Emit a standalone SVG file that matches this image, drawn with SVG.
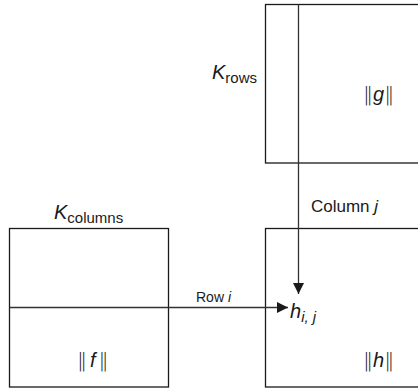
<svg xmlns="http://www.w3.org/2000/svg" width="418" height="388" viewBox="0 0 418 388">
<style>
.box{fill:none;stroke:#1a1a1a;stroke-width:1.3}
.ln{fill:none;stroke:#333;stroke-width:1.3}
text{font-family:"Liberation Sans",Arial,sans-serif;fill:#1a1a1a}
.big{font-size:20px}
.sub{font-size:15px}
.it{font-style:italic}
.nb{font-family:"DejaVu Sans",sans-serif;font-weight:200}
</style>
<defs>
<marker id="ah" viewBox="0 0 10 10" refX="10" refY="5" markerWidth="11" markerHeight="11" markerUnits="userSpaceOnUse" orient="auto">
<path d="M0,0 L10,5 L0,10 Z" fill="#1a1a1a"/>
</marker>
</defs>
<g id="matrix-g">
<rect class="box" x="265.5" y="4.5" width="160" height="158.5"/>
<text x="212" y="79"><tspan class="it big">K</tspan><tspan class="sub" dy="4">rows</tspan></text>
<text class="big" x="363" y="101"><tspan class="nb">‖</tspan><tspan class="it">g</tspan><tspan class="nb">‖</tspan></text>
</g>
<g id="matrix-f">
<rect class="box" x="9.5" y="228.5" width="159" height="158.5"/>
<text x="54" y="219"><tspan class="it big">K</tspan><tspan class="sub" dy="4">columns</tspan></text>
<text class="big" x="77" y="367"><tspan class="nb">‖</tspan><tspan class="it" dx="3">f</tspan><tspan class="nb" dx="3">‖</tspan></text>
</g>
<g id="matrix-h">
<rect class="box" x="265.5" y="228.5" width="160" height="158.5"/>
<text x="290" y="318"><tspan class="it big">h</tspan><tspan class="it sub" dy="4">i, j</tspan></text>
<text class="big" x="363" y="367"><tspan class="nb">‖</tspan><tspan class="it">h</tspan><tspan class="nb">‖</tspan></text>
</g>
<g id="connectors">
<line class="ln" x1="298.5" y1="4.5" x2="298.5" y2="294" marker-end="url(#ah)"/>
<line class="ln" x1="9.5" y1="307.5" x2="288" y2="307.5" marker-end="url(#ah)"/>
<text x="311" y="212" font-size="17">Column <tspan class="it">j</tspan></text>
<text x="196" y="302" font-size="14">Row <tspan class="it">i</tspan></text>
</g>
</svg>
